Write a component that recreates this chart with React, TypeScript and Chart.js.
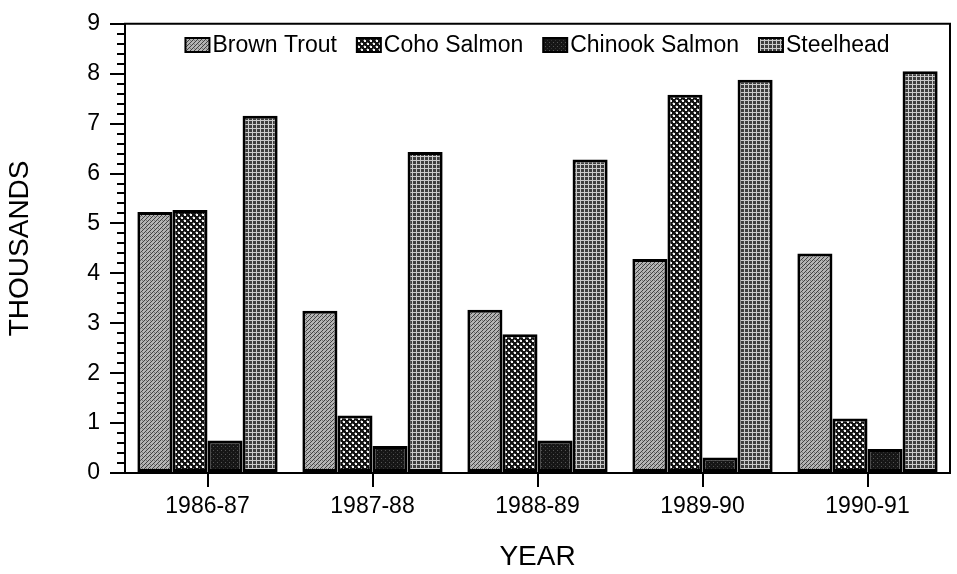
import React, { useEffect, useRef } from "react";
import { Chart, registerables } from "chart.js";

Chart.register(...registerables);

const categories = ["1986-87", "1987-88", "1988-89", "1989-90", "1990-91"];
const seriesNames = ["Brown Trout", "Coho Salmon", "Chinook Salmon", "Steelhead"];
const brownTrout = [5.23, 3.25, 3.27, 4.29, 4.4];
const cohoSalmon = [5.27, 1.15, 2.78, 7.58, 1.09];
const chinookSalmon = [0.65, 0.54, 0.65, 0.31, 0.48];
const steelhead = [7.16, 6.43, 6.28, 7.88, 8.05];
const yMin = 0;
const yMax = 9;
const yStep = 1;
const yMinorStep = 0.2;
const xTitle = "YEAR";
const yTitle = "THOUSANDS";

const FONT = "'Liberation Sans', Arial, Helvetica, sans-serif";

function makePattern(kind: string): CanvasPattern | string {
  const c = document.createElement("canvas");
  let size = 4;
  if (kind === "coho") size = 6;
  c.width = size;
  c.height = size;
  const g = c.getContext("2d")!;
  const px = (x: number, y: number, col: string) => {
    g.fillStyle = col;
    g.fillRect(((x % size) + size) % size, ((y % size) + size) % size, 1, 1);
  };
  if (kind === "brown") {
    g.fillStyle = "#b4b4b4";
    g.fillRect(0, 0, size, size);
    for (let y = 0; y < size; y++)
      for (let x = 0; x < size; x++) {
        if ((x + y) % 4 === 0) px(x, y, "#404040");
        else if ((x + 3 * y) % 8 === 2) px(x, y, "#7a7a7a");
      }
  } else if (kind === "coho") {
    g.fillStyle = "#121212";
    g.fillRect(0, 0, size, size);
    const dot = (cx: number, cy: number) => {
      px(cx, cy, "#f6f6f6");
      px(cx + 1, cy, "#f6f6f6");
      px(cx, cy + 1, "#f6f6f6");
      px(cx + 1, cy + 1, "#f6f6f6");
      px(cx - 1, cy, "#6a6a6a");
      px(cx, cy - 1, "#6a6a6a");
    };
    dot(1, 1);
    dot(4, 4);
  } else if (kind === "chinook") {
    g.fillStyle = "#161616";
    g.fillRect(0, 0, size, size);
    px(1, 2, "#555");
    px(3, 0, "#333");
  } else {
    g.fillStyle = "#3e3e3e";
    g.fillRect(0, 0, size, size);
    for (let i = 0; i < size; i++) {
      px(i, 0, "#cacaca");
      px(0, i, "#cacaca");
    }
  }
  const p = g.createPattern(c, "repeat");
  return p || "#888";
}

export default function App() {
  const ref = useRef<HTMLCanvasElement | null>(null);

  useEffect(() => {
    if (!ref.current) return;
    const patterns = [
      makePattern("brown"),
      makePattern("coho"),
      makePattern("chinook"),
      makePattern("steel"),
    ];
    const values = [brownTrout, cohoSalmon, chinookSalmon, steelhead];

    const extras = {
      id: "extras",
      afterDraw(chart: any) {
        const { ctx, chartArea } = chart;
        const y = chart.scales.y;
        const { left, right, top, bottom } = chartArea;
        ctx.save();
        ctx.strokeStyle = "#000";
        ctx.lineWidth = 2;
        // minor ticks
        const n = Math.round((yMax - yMin) / yMinorStep);
        const per = Math.round(yStep / yMinorStep);
        ctx.beginPath();
        for (let i = 0; i <= n; i++) {
          if (i % per === 0) continue;
          const py = Math.round(y.getPixelForValue(yMin + i * yMinorStep));
          ctx.moveTo(left - 8, py);
          ctx.lineTo(left, py);
        }
        ctx.stroke();
        // top & right frame
        ctx.beginPath();
        ctx.moveTo(left - 1, top);
        ctx.lineTo(right, top);
        ctx.lineTo(right, bottom);
        ctx.stroke();

        // legend
        ctx.font = `23px ${FONT}`;
        ctx.textBaseline = "middle";
        ctx.textAlign = "left";
        const boxW = 24;
        const boxH = 14;
        const boxGap = 3;
        const itemGap = 20;
        const widths = seriesNames.map((s) => ctx.measureText(s).width);
        const total =
          widths.reduce((a: number, b: number) => a + b, 0) +
          seriesNames.length * (boxW + boxGap) +
          (seriesNames.length - 1) * itemGap;
        let x = (left + right) / 2 - total / 2;
        const ly = 45;
        seriesNames.forEach((s, i) => {
          ctx.fillStyle = patterns[i] as any;
          ctx.fillRect(x, ly - boxH / 2, boxW, boxH);
          ctx.lineWidth = 2;
          ctx.strokeStyle = "#000";
          ctx.strokeRect(x, ly - boxH / 2, boxW, boxH);
          ctx.fillStyle = "#000";
          ctx.fillText(s, x + boxW + boxGap, ly + 1);
          x += boxW + boxGap + widths[i] + itemGap;
        });
        ctx.restore();
      },
    };

    const chart = new Chart(ref.current, {
      type: "bar",
      data: {
        labels: categories,
        datasets: seriesNames.map((name, i) => ({
          label: name,
          data: values[i],
          backgroundColor: patterns[i] as any,
          borderColor: "#000",
          borderWidth: 3,
          borderSkipped: false,
          categoryPercentage: 0.85,
          barPercentage: 1.0,
        })),
      },
      options: {
        responsive: false,
        animation: false,
        devicePixelRatio: 1,
        layout: { padding: { top: 14, right: 7, left: 0, bottom: 0 } },
        plugins: {
          legend: { display: false },
          tooltip: { enabled: false },
          title: { display: false },
        },
        scales: {
          x: {
            type: "category",
            afterFit(scale: any) {
              scale.height = 101;
            },
            grid: {
              display: true,
              offset: false,
              drawOnChartArea: false,
              drawTicks: true,
              tickLength: 14,
              color: "#000",
              lineWidth: 2,
            },
            border: { display: true, color: "#000", width: 2 },
            ticks: {
              color: "#000",
              font: { family: FONT, size: 23 },
              padding: 6,
              maxRotation: 0,
            },
            title: {
              display: true,
              text: xTitle,
              color: "#000",
              font: { family: FONT, size: 28 },
              padding: { top: 0, bottom: 0 },
            },
          },
          y: {
            min: yMin,
            max: yMax,
            afterFit(scale: any) {
              scale.width = 125;
            },
            grid: {
              display: true,
              drawOnChartArea: false,
              drawTicks: true,
              tickLength: 15,
              color: "#000",
              lineWidth: 2,
            },
            border: { display: true, color: "#000", width: 2 },
            ticks: {
              stepSize: yStep,
              color: "#000",
              font: { family: FONT, size: 23 },
              padding: 10,
            },
            title: {
              display: true,
              text: yTitle,
              color: "#000",
              font: { family: FONT, size: 28 },
              padding: { top: 3, bottom: 0 },
            },
          },
        },
      },
      plugins: [extras],
    });
    return () => chart.destroy();
  }, []);

  return (
    <div style={{ position: "absolute", left: 0, top: 0, width: 957, height: 574, background: "#fff" }}>
      <canvas ref={ref} width={957} height={574} />
    </div>
  );
}
